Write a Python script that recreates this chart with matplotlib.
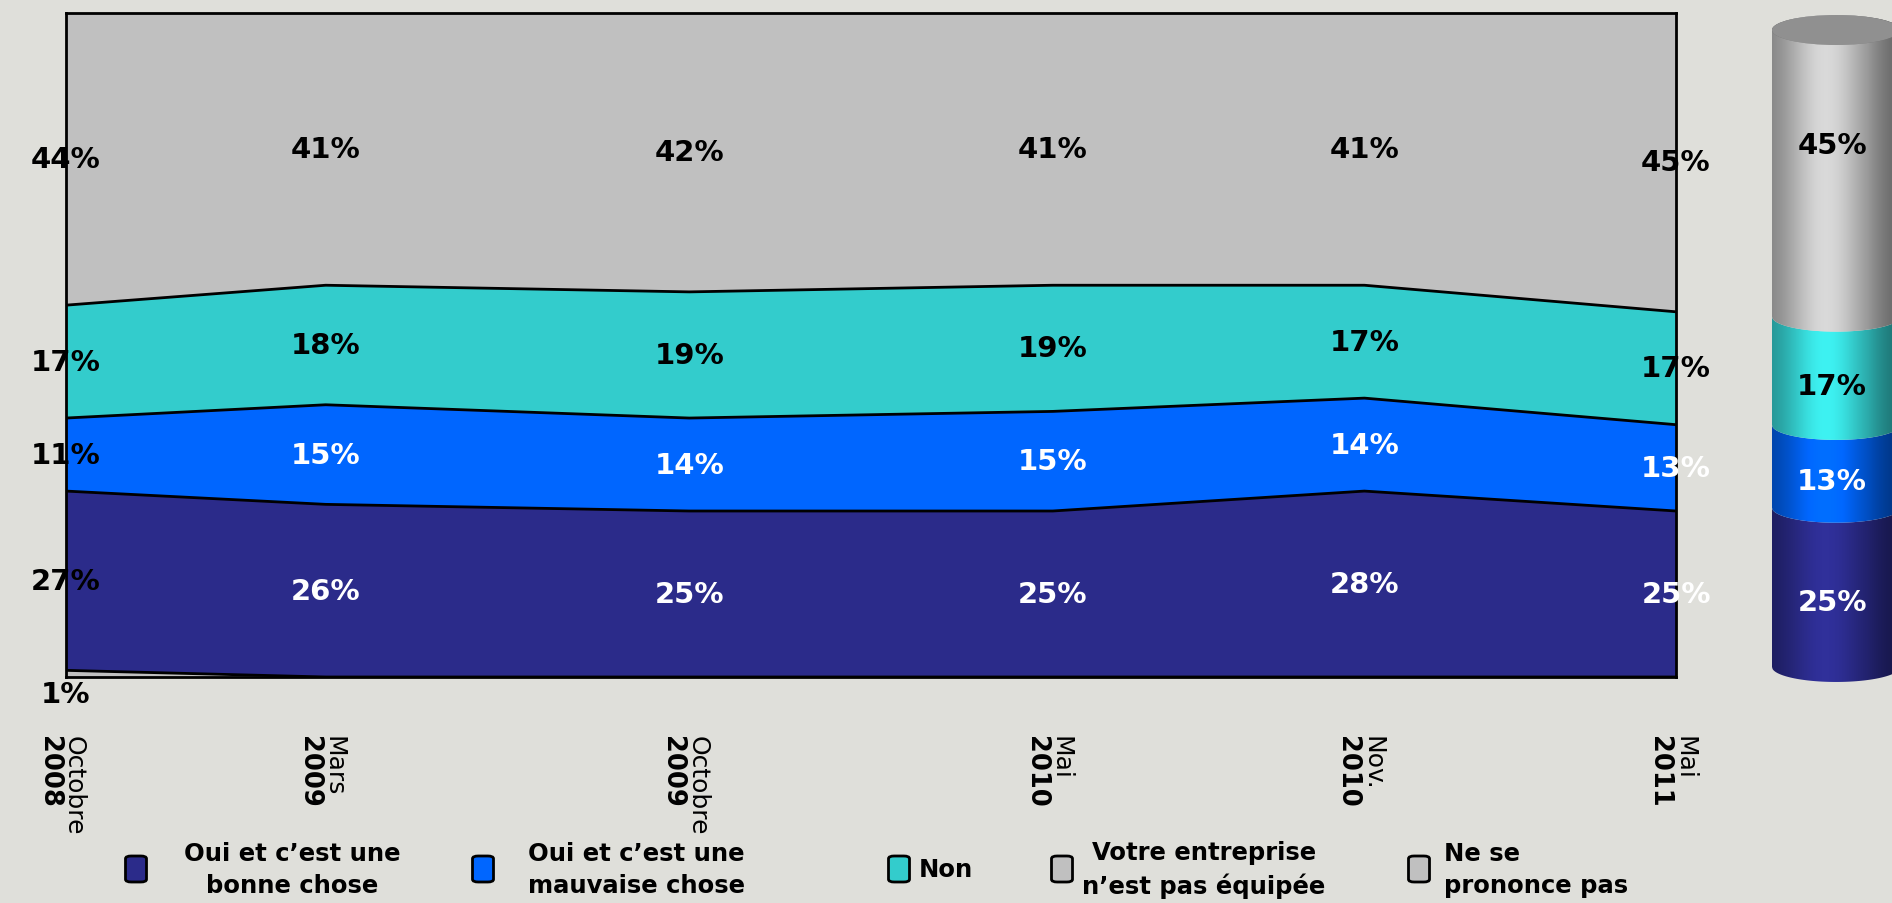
import numpy as np
import matplotlib
matplotlib.use('Agg')
import matplotlib.pyplot as plt
from matplotlib.patches import FancyBboxPatch, Polygon, Ellipse

# ---------------- data ----------------
months = [0, 5, 12, 19, 25, 31]          # months since October 2008
tick_month = ['Octobre', 'Mars', 'Octobre', 'Mai', 'Nov.', 'Mai']
tick_year = ['2008', '2009', '2009', '2010', '2010', '2011']

series_names = ["Oui et c\u2019est une\nbonne chose",
                "Oui et c\u2019est une\nmauvaise chose",
                "Non",
                "Votre entreprise\nn\u2019est pas \u00e9quip\u00e9e",
                "Ne se\nprononce pas"]
oui_bonne = [27, 26, 25, 25, 28, 25]
oui_mauvaise = [11, 15, 14, 15, 14, 13]
non = [17, 18, 19, 19, 17, 17]
pas_equipee = [44, 41, 42, 41, 41, 45]
ne_se_prononce = [1, 0, 0, 0, 0, 0]

# ---------------- style ----------------
BG = '#DFDFDA'
C_BONNE = '#2B2B8A'
C_MAUV = '#0066FF'
C_NON = '#33CCCC'
C_EQUIP = '#C0C0C0'
C_NSP = '#C0C0C0'

plt.rcParams['font.family'] = ['DejaVu Sans']

W, H = 1892, 904
fig = plt.figure(figsize=(W / 100, H / 100), dpi=100, facecolor=BG)


def fx(px):
    return px / W


def fy(py):
    return 1 - py / H


# main axes
ax_l, ax_r, ax_t, ax_b = 66, 1676, 14, 678
ax = fig.add_axes([fx(ax_l), fy(ax_b), fx(ax_r - ax_l), (ax_b - ax_t) / H])
ax.set_facecolor(BG)

# stacking order bottom -> top
stack = [ne_se_prononce, oui_bonne, oui_mauvaise, non, pas_equipee]
colors = [C_NSP, C_BONNE, C_MAUV, C_NON, C_EQUIP]
txt_colors = ['black', 'white', 'white', 'black', 'black']

x = np.array(months, dtype=float)
ax.stackplot(x, *[np.array(s, float) for s in stack], colors=colors, linewidth=0)
cum = np.zeros(len(x))
for s in stack[:-1]:
    cum = cum + np.array(s, float)
    ax.plot(x, cum, color='black', lw=2, solid_joinstyle='miter')

ax.set_xlim(x[0], x[-1])
ax.set_ylim(0, 100)
ax.set_xticks([])
ax.set_yticks([])
for sp in ax.spines.values():
    sp.set_color('black')
    sp.set_linewidth(2)

# value labels
below = np.zeros(len(x))
for s, tc in zip(stack, txt_colors):
    v = np.array(s, float)
    for i in range(len(x)):
        if v[i] <= 0:
            continue
        col = 'black' if i == 0 else tc
        if v[i] < 3:
            ax.annotate(f'{int(v[i])}%', xy=(x[i], 0), xytext=(0, -3),
                        textcoords='offset pixels', ha='center', va='top',
                        fontsize=21, fontweight='bold', color='black',
                        annotation_clip=False)
        else:
            ax.text(x[i], below[i] + v[i] / 2, f'{int(v[i])}%', ha='center',
                    va='center', fontsize=21, fontweight='bold', color=col,
                    clip_on=False)
    below = below + v

# x tick labels (rotated)
for i in range(len(x)):
    ax.annotate(tick_month[i], xy=(x[i], 0), xycoords=('data', 'axes fraction'),
                xytext=(8, -58), textcoords='offset pixels', rotation=270,
                ha='center', va='top', fontsize=18, annotation_clip=False)
    ax.annotate(tick_year[i], xy=(x[i], 0), xycoords=('data', 'axes fraction'),
                xytext=(-17, -58), textcoords='offset pixels', rotation=270,
                ha='center', va='top', fontsize=18.5, fontweight='bold',
                annotation_clip=False)

# ---------------- legend ----------------
legend_colors = [C_BONNE, C_MAUV, C_NON, C_EQUIP, C_NSP]
marker_x = [136, 483, 899, 1062, 1419]
text_x = [292, 636, 919, 1204, 1444]
text_ha = ['center', 'center', 'left', 'center', 'left']
mk_y = 870
for name, c, mx, tx, ha in zip(series_names, legend_colors, marker_x, text_x, text_ha):
    bw, bh = 21, 26
    p = FancyBboxPatch((fx(mx - bw / 2), fy(mk_y + bh / 2)), bw / W, bh / H,
                       boxstyle='round,pad=0,rounding_size=0.003',
                       transform=fig.transFigure, facecolor=c,
                       edgecolor='black', linewidth=2)
    fig.patches.append(p)
    fig.text(fx(tx), fy(mk_y), name, ha=ha, va='center', fontsize=17.5,
             fontweight='bold', multialignment=ha,
             linespacing=1.45)

# ---------------- cylinder (last wave) ----------------
cyl_l, cyl_w = 1772, 128
base_py, top_py = 668, 31
e = 2.35
pad = e + 2
unit = (base_py - top_py) / 100.0  # pixels per percent
cax = fig.add_axes([fx(cyl_l), fy(base_py + pad * unit), fx(cyl_w),
                    (100 + 2 * pad) * unit / H])
cax.set_xlim(0, 1)
cax.set_ylim(-pad, 100 + pad)
cax.axis('off')
cax.patch.set_alpha(0)

last_vals = [oui_bonne[-1], oui_mauvaise[-1], non[-1], pas_equipee[-1]]
cyl_colors = [C_BONNE, '#0063F5', '#37D8D8', '#C2C2C2']
cyl_txt = ['white', 'white', 'black', 'black']

xs = np.linspace(0, 1, 200)
arc = np.sqrt(np.clip(1 - (2 * xs - 1) ** 2, 0, 1))
shade = 0.62 + 0.5 * np.exp(-((xs - 0.42) / 0.32) ** 2)
shade = shade - 0.12 * np.clip((xs - 0.75) / 0.25, 0, 1)


def grad_img(color):
    rgb = np.array(matplotlib.colors.to_rgb(color))
    img = np.clip(shade[None, :, None] * rgb[None, None, :], 0, 1)
    return img


y0 = 0.0
for k, (v, c, tc) in enumerate(zip(last_vals, cyl_colors, cyl_txt)):
    y1 = y0 + v
    lower = y0 - e * arc
    top_seg = (k == len(last_vals) - 1)
    upper = y1 + e * arc if top_seg else y1 - e * arc
    verts = np.vstack([np.column_stack([xs, lower]),
                       np.column_stack([xs[::-1], upper[::-1]])])
    poly = Polygon(verts, closed=True, facecolor='none', edgecolor='none')
    cax.add_patch(poly)
    im = cax.imshow(grad_img(c), extent=[0, 1, y0 - e - 1, y1 + e + 1],
                    aspect='auto', origin='lower', interpolation='bilinear')
    im.set_clip_path(poly)
    ty = y0 + (0.65 * v if top_seg else v / 2) - e
    cax.text(0.47, ty, f'{v}%', ha='center', va='center',
             fontsize=21, fontweight='bold', color=tc, clip_on=False)
    y0 = y1

cap = Ellipse((0.5, 100), 1, 2 * e, facecolor='#909090', edgecolor='none')
cax.add_patch(cap)
im = cax.imshow(grad_img('#9A9A9A'), extent=[0, 1, 100 - e, 100 + e],
                aspect='auto', origin='lower', interpolation='bilinear')
im.set_clip_path(cap)
cax.set_xlim(0, 1)
cax.set_ylim(-pad, 100 + pad)

fig.savefig('out.png', dpi=100, facecolor=BG)
